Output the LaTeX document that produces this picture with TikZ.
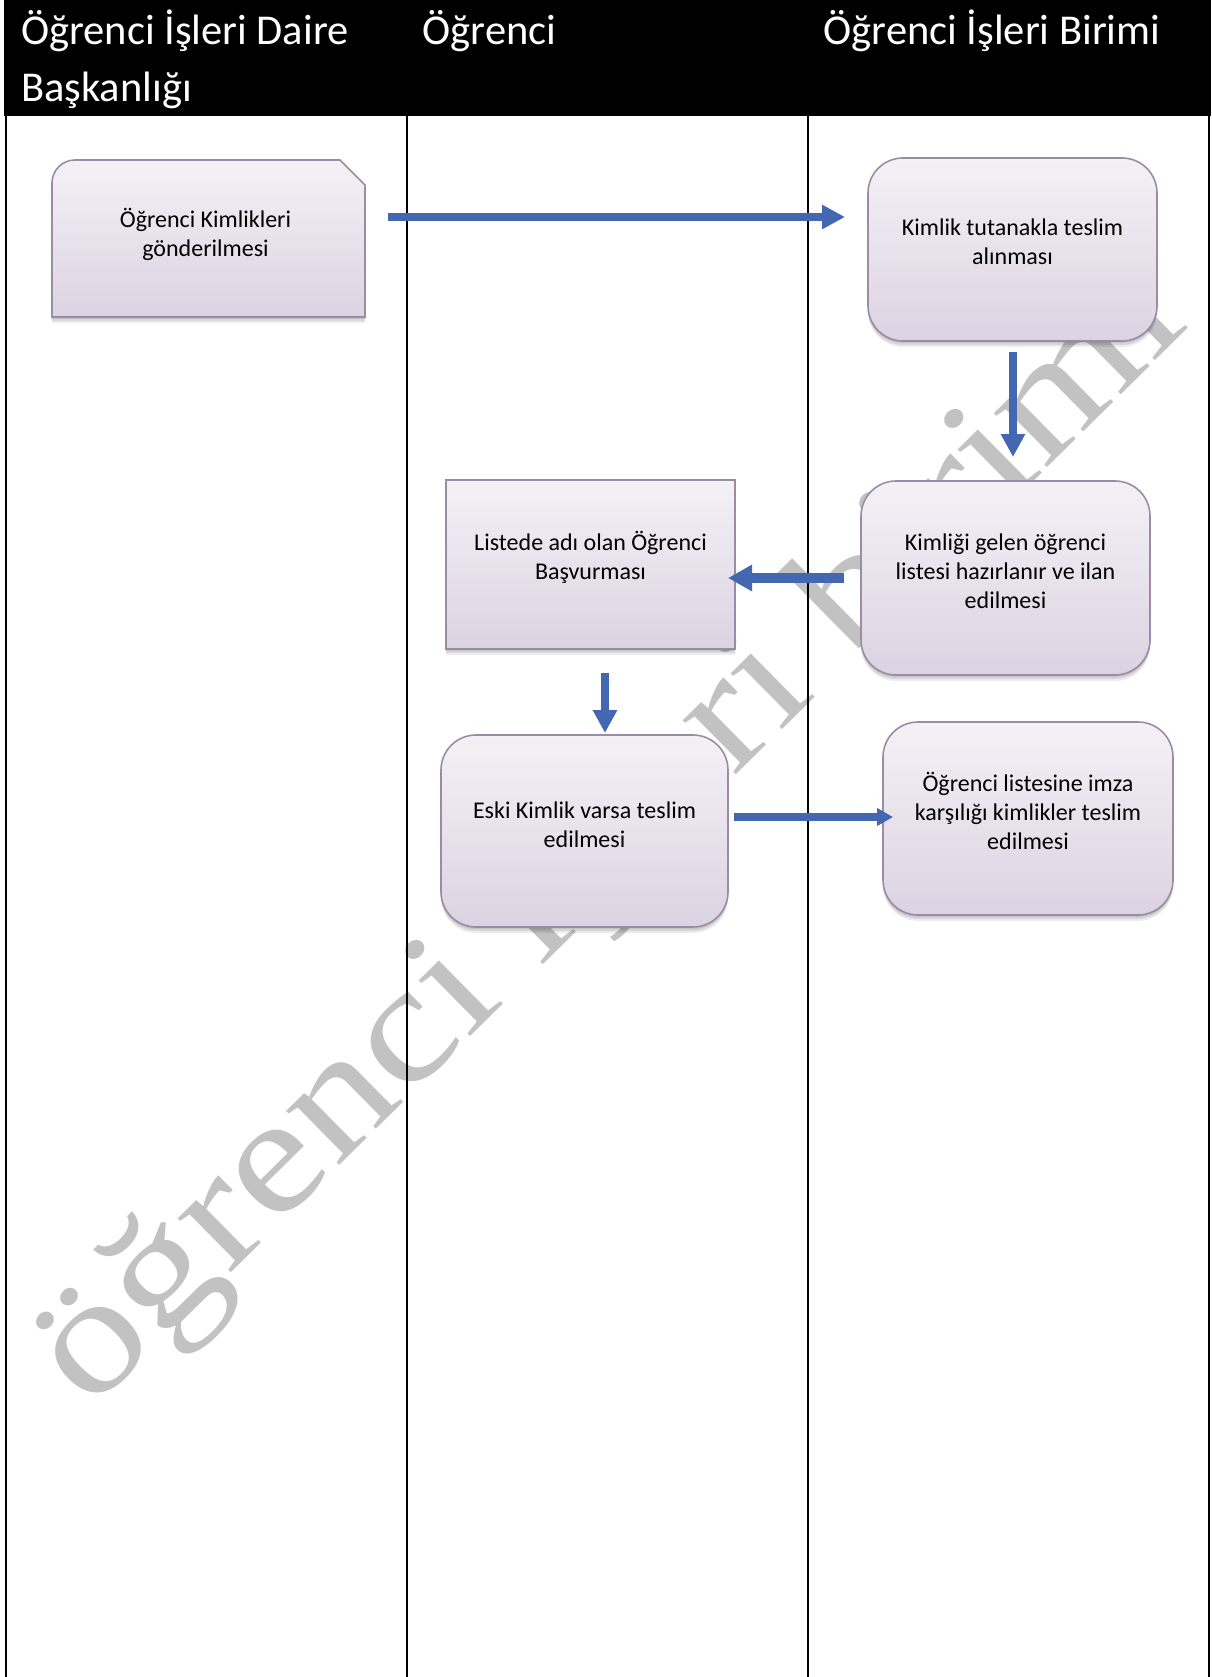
\documentclass[tikz,border=0pt]{standalone}
\usepackage{fontspec}
\setmainfont{Carlito}
\newfontfamily\wmfont{Liberation Serif}
\usetikzlibrary{arrows.meta,calc}
\definecolor{arrowblue}{RGB}{68,103,177}
\definecolor{boxtop}{RGB}{244,241,246}
\definecolor{boxbot}{RGB}{220,211,226}
\definecolor{boxline}{RGB}{155,139,165}
\definecolor{wmgray}{RGB}{194,194,194}
\begin{document}
\begin{tikzpicture}[x=1pt,y=1pt,
  shadowed/.style={preaction={fill=black,opacity=0.09,transform canvas={yshift=-2pt}},
                   preaction={fill=black,opacity=0.09,transform canvas={yshift=-4pt}},
                   preaction={fill=black,opacity=0.07,transform canvas={yshift=-6pt}}},
  procbox/.style={shadowed, draw=boxline, line width=1.6pt, top color=boxtop, bottom color=boxbot, inner sep=0pt, outer sep=0pt},
  roundbox/.style={procbox, rounded corners=35pt},
  holder/.style={inner sep=0pt, outer sep=0pt},
  txt/.style={align=center, font=\fontsize{24}{29}\selectfont, inner sep=0pt},
  hdr/.style={text=white, font=\fontsize{42.5}{57}\selectfont, inner sep=0pt, anchor=base west},
  wm/.style={text=wmgray, font=\wmfont\fontsize{165}{165}\selectfont, rotate=44.6, anchor=base west, inner sep=0pt},
  flow/.style={draw=arrowblue, line width=8pt, -{Triangle[length=23pt,width=23pt]}},
  lane/.style={line width=2pt, draw=black}
]
\useasboundingbox (0,0) rectangle (1211,-1677);
\fill[white] (0,0) rectangle (1211,-1677);

% watermark
\node[wm] (wm) at (90,-1412) {\scalebox{1.18}[1]{öğrenci işleri birimi}};

% header band and lanes
\fill[black] (4,0) rectangle (1211,-116);
\draw[lane] (6,-116) -- (6,-1677);
\draw[lane] (407,-116) -- (407,-1677);
\draw[lane] (808,-116) -- (808,-1677);
\draw[lane] (1209,-116) -- (1209,-1677);

\node[hdr] (h1) at (21,-45) {Öğrenci İşleri Daire};
\node[hdr] (h1b) at (21,-101.5) {Başkanlığı};
\node[hdr] (h2) at (422.5,-45) {Öğrenci};
\node[hdr] (h3) at (823.5,-45) {Öğrenci İşleri Birimi};

% boxes
\node[holder, minimum width=313, minimum height=157] (A) at (208.5,-238.5) {};
\path[procbox] (A.south west) -- ($(A.north west)+(0,-23)$) arc[start angle=180,end angle=90,radius=23]
   -- ($(A.north east)+(-25,0)$) -- ($(A.north east)+(0,-25)$) -- (A.south east) -- cycle;
\node[roundbox, minimum width=289, minimum height=183] (B) at (1012.5,-249.5) {};
\node[procbox, minimum width=289, minimum height=169] (C) at (590.5,-564.5) {};
\node[roundbox, minimum width=289, minimum height=194] (D) at (1005.5,-578) {};
\node[roundbox, minimum width=287, minimum height=192] (E) at (584.5,-831) {};
\node[roundbox, minimum width=290, minimum height=193] (F) at (1028,-818.5) {};

\node[txt] (At) at ($(A.center)+(-3,4)$) {Öğrenci Kimlikleri\\gönderilmesi};
\node[txt] (Bt) at ($(B.center)+(0,7.5)$) {Kimlik tutanakla teslim\\alınması};
\node[txt] (Ct) at ($(C.center)+(0,7.5)$) {Listede adı olan Öğrenci\\Başvurması};
\node[txt] (Dt) at ($(D.center)+(0,7)$) {Kimliği gelen öğrenci\\listesi hazırlanır ve ilan\\edilmesi};
\node[txt] (Et) at ($(E.center)+(0,6.5)$) {Eski Kimlik varsa teslim\\edilmesi};
\node[txt] (Ft) at ($(F.center)+(0,7.5)$) {Öğrenci listesine imza\\karşılığı kimlikler teslim\\edilmesi};

% arrows
\coordinate (a1s) at (388,-217);  \coordinate (a1e) at (845,-217);
\coordinate (a2s) at (1013,-352); \coordinate (a2e) at (1013,-457);
\coordinate (a3s) at (844,-578);  \coordinate (a3e) at (728,-578);
\coordinate (a4s) at (605,-673);  \coordinate (a4e) at (605,-733);
\coordinate (a5s) at (734,-817);  \coordinate (a5e) at (893,-817);
\draw[flow] (a1s) -- (a1e);
\draw[flow] (a2s) -- (a2e);
\draw[flow, line width=10pt, -{Triangle[length=24pt,width=25pt]}] (a3s) -- (a3e);
\draw[flow] (a4s) -- (a4e);
\draw[flow, -{Triangle[length=16pt,width=17pt]}] (a5s) -- (a5e);
\end{tikzpicture}
\end{document}
